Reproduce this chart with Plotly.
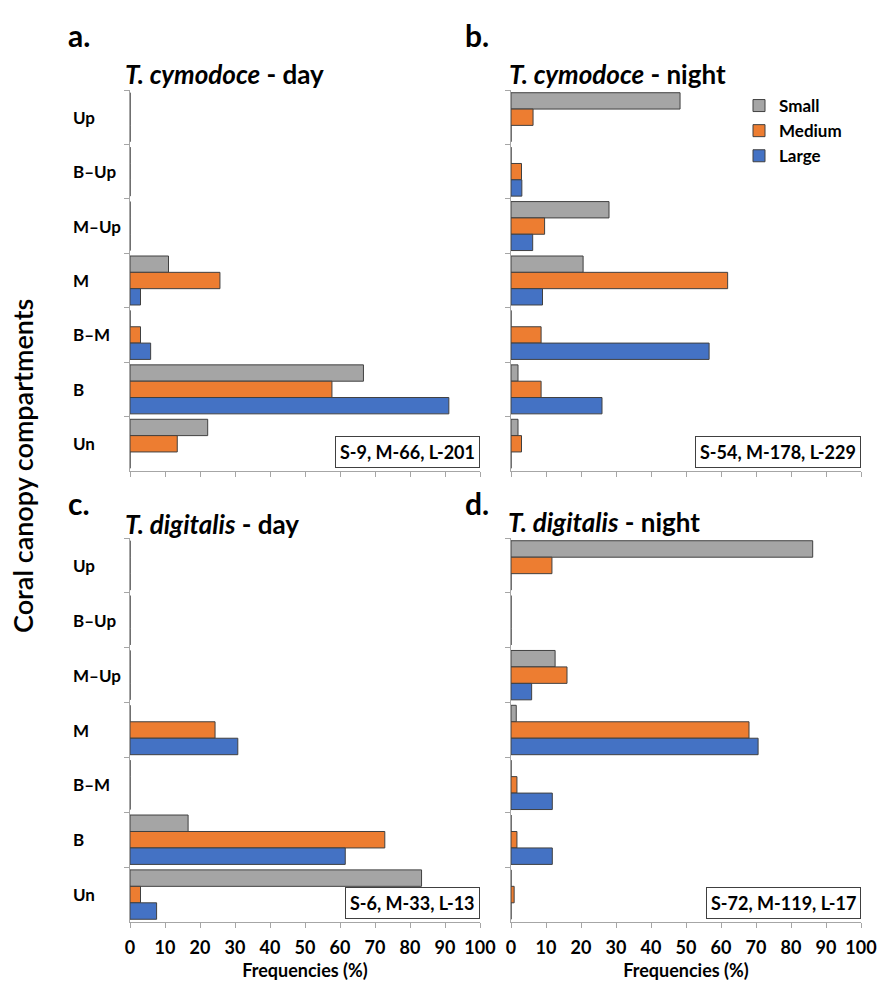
import plotly.graph_objects as go

W, H = 878, 985

categories = ["Up", "B\u2013Up", "M\u2013Up", "M", "B\u2013M", "B", "Un"]
series_names = ["Small", "Medium", "Large"]
colors = ["#A5A5A5", "#ED7D31", "#4472C4"]

# values in order of categories (Up ... Un)
a_small = [0, 0, 0, 11.0, 0, 66.7, 22.2]
a_medium = [0, 0, 0, 25.7, 3.0, 57.7, 13.5]
a_large = [0, 0, 0, 3.0, 5.9, 91.1, 0]

b_small = [48.3, 0, 28.0, 20.6, 0, 2.0, 2.0]
b_medium = [6.3, 3.0, 9.6, 61.9, 8.6, 8.6, 3.0]
b_large = [0, 3.1, 6.2, 9.0, 56.6, 26.0, 0]

c_small = [0, 0, 0, 0, 0, 16.6, 83.3]
c_medium = [0, 0, 0, 24.3, 0, 72.8, 3.0]
c_large = [0, 0, 0, 30.8, 0, 61.5, 7.6]

d_small = [86.2, 0, 12.6, 1.5, 0, 0, 0]
d_medium = [11.7, 0, 16.0, 68.0, 1.7, 1.7, 0.9]
d_large = [0, 0, 5.9, 70.6, 11.8, 11.8, 0]

panel_letters = ["a.", "b.", "c.", "d."]
panel_titles = [
    "<b><i>T. cymodoce</i> - day</b>",
    "<b><i>T. cymodoce</i> - night</b>",
    "<b><i>T. digitalis</i> - day</b>",
    "<b><i>T. digitalis</i> - night</b>",
]
sample_sizes = ["S-9, M-66, L-201", "S-54, M-178, L-229", "S-6, M-33, L-13", "S-72, M-119, L-17"]
x_ticks = [0, 10, 20, 30, 40, 50, 60, 70, 80, 90, 100]
x_title = "Frequencies (%)"
y_title = "Coral canopy compartments"

panels = [
    (a_small, a_medium, a_large),
    (b_small, b_medium, b_large),
    (c_small, c_medium, c_large),
    (d_small, d_medium, d_large),
]

FONT = "Lato"
AXIS_COLOR = "#A6A6A6"

def px_x(v):
    return v / W

def px_y(v):
    return 1 - v / H

# layout geometry (pixels)
x_dom = [(130, 480), (511, 861), (130, 480), (511, 861)]
y_dom = [(90, 471), (90, 471), (538, 922), (538, 922)]
letter_pos = [(66, 35), (463, 35), (66, 503), (463, 503)]
title_pos = [(123, 74), (507, 74), (123, 524), (506, 522)]

fig = go.Figure()
layout = dict(
    width=W, height=H, autosize=False,
    margin=dict(l=0, r=0, t=0, b=0, autoexpand=False),
    paper_bgcolor="white", plot_bgcolor="white",
    barmode="group", bargap=0.1, bargroupgap=0.0,
    font=dict(family=FONT, color="#000000"),
    showlegend=True,
    legend=dict(
        x=px_x(739), y=px_y(88), xanchor="left", yanchor="top",
        font=dict(family=FONT, size=17, weight="bold", color="#000"),
        traceorder="normal", itemwidth=30, tracegroupgap=0,
        bgcolor="rgba(0,0,0,0)",
    ),
)
annotations = []

for i, vals in enumerate(panels):
    n = "" if i == 0 else str(i + 1)
    xa = "x" + n
    ya = "y" + n
    for s, (name, col) in enumerate(zip(series_names, colors)):
        fig.add_trace(go.Bar(
            x=vals[s], y=categories, orientation="h",
            name=name, legendgroup=name, showlegend=(i == 0),
            marker=dict(color=col, line=dict(color="#404040", width=1)),
            xaxis=xa, yaxis=ya, hoverinfo="skip",
        ))
    xd = x_dom[i]
    yd = y_dom[i]
    layout["xaxis" + n] = dict(
        domain=[px_x(xd[0]), px_x(xd[1])], anchor=ya, automargin=False,
        range=[0, 100], tickvals=x_ticks, ticktext=[str(t) for t in x_ticks],
        showgrid=False, zeroline=False,
        showline=True, linecolor=AXIS_COLOR, linewidth=1,
        ticks="outside", ticklen=5, tickcolor=AXIS_COLOR,
        showticklabels=(i >= 2),
        tickfont=dict(family=FONT, size=18, weight="bold", color="#000"),
        ticklabelstandoff=4,
        title=dict(text=x_title if i >= 2 else "",
                   font=dict(family=FONT, size=18, weight="bold", color="#000"),
                   standoff=7),
    )
    layout["yaxis" + n] = dict(
        domain=[px_y(yd[1]), px_y(yd[0])], anchor=xa, automargin=False,
        type="category", categoryorder="array", categoryarray=categories,
        range=[len(categories) - 0.5, -0.5],
        showgrid=False, zeroline=False,
        showline=True, linecolor=AXIS_COLOR, linewidth=1,
        ticks="outside", ticklen=5, tickcolor=AXIS_COLOR,
        tickson="boundaries", showticklabels=False,
    )
    annotations.append(dict(
        text="<b>" + panel_letters[i] + "</b>", xref="paper", yref="paper",
        x=px_x(letter_pos[i][0]), y=px_y(letter_pos[i][1]),
        xanchor="left", yanchor="middle", showarrow=False,
        font=dict(family=FONT, size=30, color="#000"),
    ))
    annotations.append(dict(
        text=panel_titles[i], xref="paper", yref="paper",
        x=px_x(title_pos[i][0]), y=px_y(title_pos[i][1]),
        xanchor="left", yanchor="middle", showarrow=False,
        font=dict(family=FONT, size=26, color="#000"),
    ))
    annotations.append(dict(
        text="<b>" + sample_sizes[i] + "</b>", xref=xa + " domain", yref=ya + " domain",
        x=1, y=0, xanchor="right", yanchor="bottom", yshift=3, xshift=0,
        showarrow=False, bordercolor="#404040", borderwidth=1, borderpad=4,
        bgcolor="white",
        font=dict(family=FONT, size=18, color="#000"),
    ))
    if i in (0, 2):
        for k, cat in enumerate(categories):
            annotations.append(dict(
                text="<b>" + cat + "</b>", xref="paper", yref=ya,
                x=px_x(71), y=k, xanchor="left", yanchor="middle",
                showarrow=False, font=dict(family=FONT, size=17, color="#000"),
            ))

annotations.append(dict(
    text=y_title, xref="paper", yref="paper",
    x=px_x(22), y=px_y(466), xanchor="center", yanchor="middle",
    textangle=-90, showarrow=False,
    font=dict(family=FONT, size=27, color="#000", weight=600),
))

layout["annotations"] = annotations
fig.update_layout(**layout)

post = (
    "document.body.style.margin='0';document.body.style.padding='0';"
    "document.documentElement.style.overflow='hidden';"
)
fig.write_html(
    "out.html",
    config={"displayModeBar": False},
    post_script=post,
)
